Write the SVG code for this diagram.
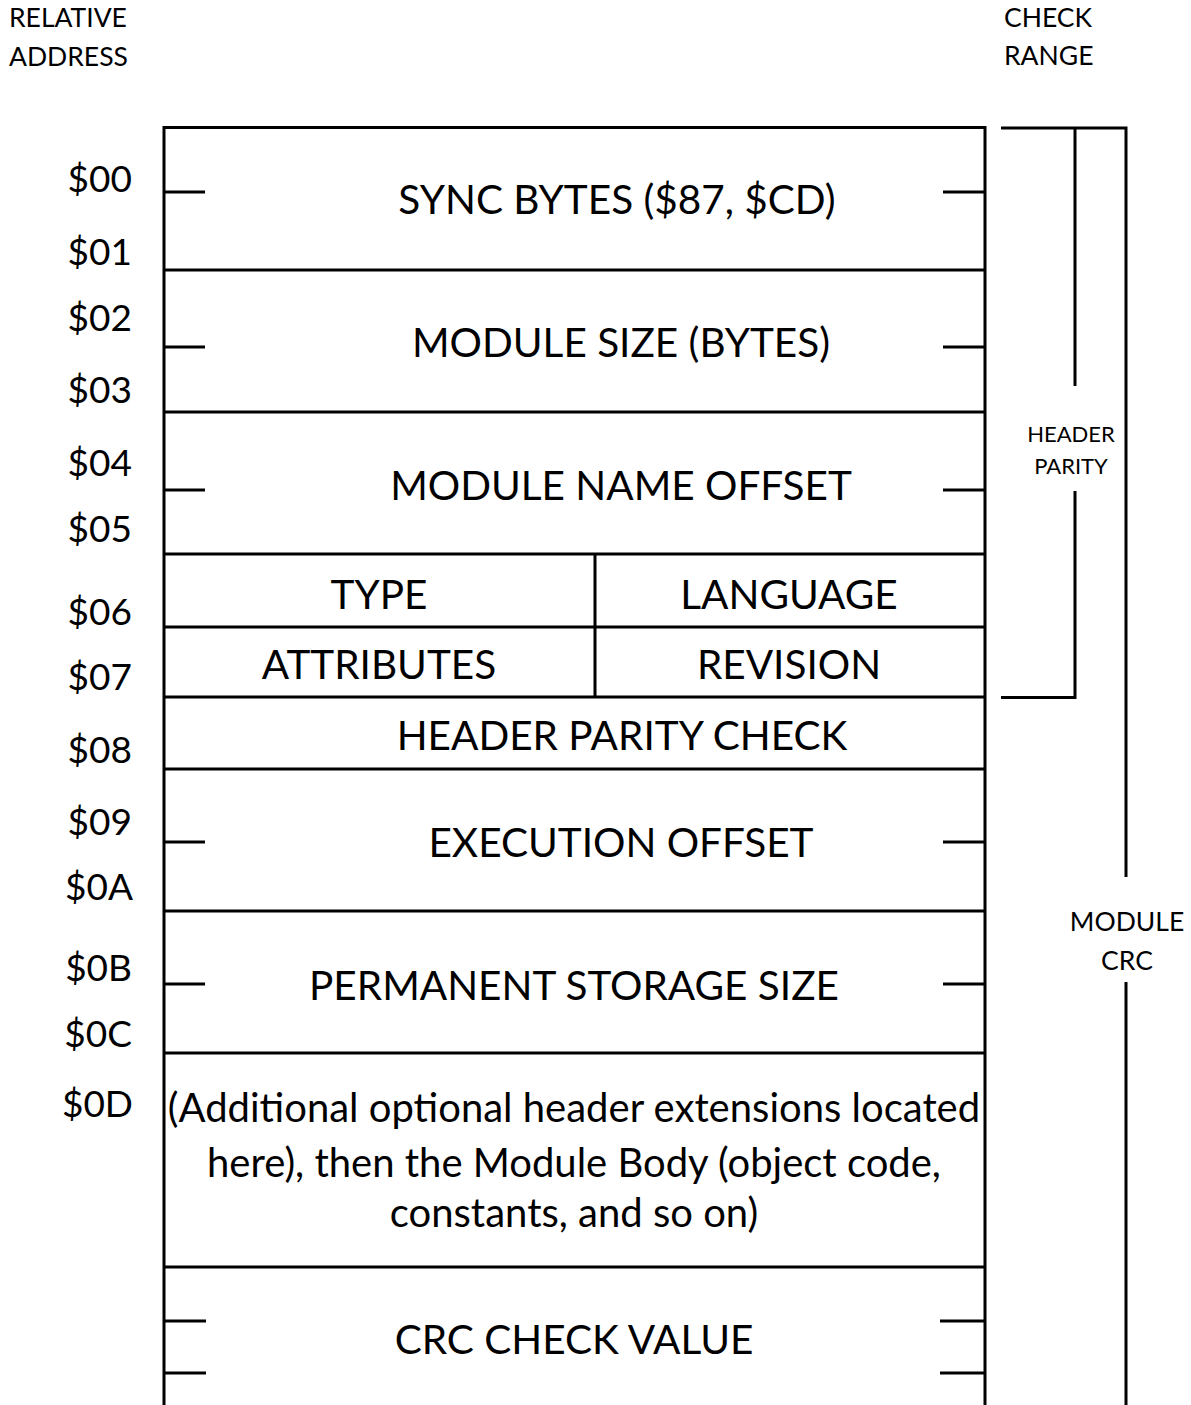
<svg xmlns="http://www.w3.org/2000/svg" width="1191" height="1405" viewBox="0 0 1191 1405">
<style>
text{font-family:Lato,"Noto Sans","Liberation Sans",sans-serif;fill:#000}
.big{font-size:40.5px;text-anchor:middle}
.body{font-size:40px;text-anchor:middle}
.addr{font-size:37px;text-anchor:end}
.hdr{font-size:26.5px}
.side{font-size:22px;text-anchor:middle}
.side2{font-size:26.5px;text-anchor:middle}
.ln{stroke:#000;stroke-width:3;fill:none;stroke-linecap:butt}
</style>
<rect x="0" y="0" width="1191" height="1405" fill="#fff"/>
<g id="headers">
<text class="hdr" x="9" y="27">RELATIVE</text>
<text class="hdr" x="9" y="66">ADDRESS</text>
<text class="hdr" x="1004" y="27">CHECK</text>
<text class="hdr" x="1004" y="65">RANGE</text>
</g>
<g id="addresses">
<text class="addr" x="132" y="192">$00</text>
<text class="addr" x="132" y="265">$01</text>
<text class="addr" x="132" y="331">$02</text>
<text class="addr" x="132" y="403">$03</text>
<text class="addr" x="132" y="476">$04</text>
<text class="addr" x="132" y="542">$05</text>
<text class="addr" x="132" y="625">$06</text>
<text class="addr" x="132" y="690">$07</text>
<text class="addr" x="132" y="763">$08</text>
<text class="addr" x="132" y="835">$09</text>
<text class="addr" x="133" y="900">$0A</text>
<text class="addr" x="132" y="981">$0B</text>
<text class="addr" x="132" y="1047">$0C</text>
<text class="addr" x="133" y="1117">$0D</text>
</g>
<g id="connectors">
<path class="ln" d="M164,126V1405M985,126V1405M162.5,127.5H986.5"/>
<path class="ln" d="M164,270H985M164,412H985M164,554H985M164,627H985M164,697H985M164,769H985M164,911H985M164,1053H985M164,1267H985M595,554V697"/>
<path class="ln" d="M164,192H205M943,192H985M164,347H205M943,347H985M164,490H205M943,490H985M164,842H205M943,842H985M164,984H205M943,984H985M164,1321H206M940,1321H985M164,1373H206M940,1373H985"/>
<path class="ln" d="M1001,128H1127.5M1075,128V386M1075,491V697.5H1001M1126,128V877M1126,982V1405"/>
</g>
<g id="node-sync"><text class="big" x="617" y="214">SYNC BYTES ($87, $CD)</text></g>
<g id="node-size"><text class="big" x="621" y="357">MODULE SIZE (BYTES)</text></g>
<g id="node-name"><text class="big" x="621" y="500">MODULE NAME OFFSET</text></g>
<g id="node-type"><text class="big" x="379" y="609">TYPE</text></g>
<g id="node-language"><text class="big" x="789" y="609">LANGUAGE</text></g>
<g id="node-attributes"><text class="big" x="379" y="679">ATTRIBUTES</text></g>
<g id="node-revision"><text class="big" x="789" y="679">REVISION</text></g>
<g id="node-parity"><text class="big" x="622" y="750">HEADER PARITY CHECK</text></g>
<g id="node-exec"><text class="big" x="621" y="857">EXECUTION OFFSET</text></g>
<g id="node-perm"><text class="big" x="574" y="1000">PERMANENT STORAGE SIZE</text></g>
<g id="node-body">
<text class="body" x="574" y="1122">(Additional optional header extensions located</text>
<text class="body" x="574" y="1177">here), then the Module Body (object code,</text>
<text class="body" x="574" y="1227">constants, and so on)</text>
</g>
<g id="node-crc"><text class="big" x="574" y="1354">CRC CHECK VALUE</text></g>
<g id="ranges">
<text class="side" x="1071" y="442">HEADER</text>
<text class="side" x="1071" y="474">PARITY</text>
<text class="side2" x="1127" y="931">MODULE</text>
<text class="side2" x="1127" y="970">CRC</text>
</g>
</svg>
